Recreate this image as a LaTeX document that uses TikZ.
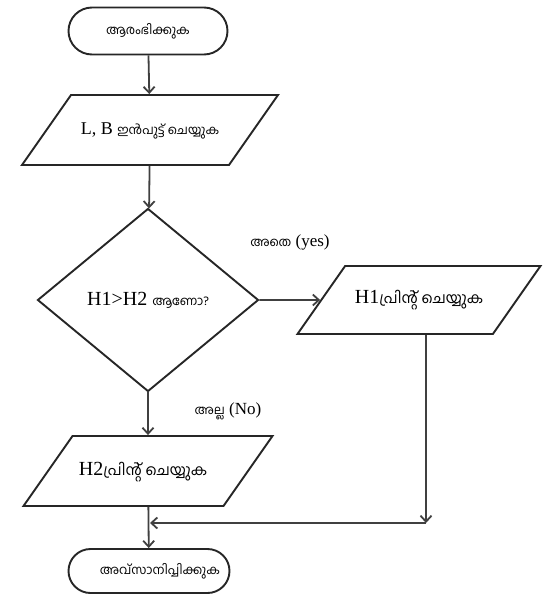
\documentclass[tikz,border=0pt]{standalone}
\usepackage{fontspec}
\setmainfont{Liberation Serif}
\newfontfamily\ml[Script=Malayalam]{Hind Kochi}
\usetikzlibrary{shapes.geometric,shapes.misc,arrows.meta}

\tikzset{
  outline/.style={draw=black!85, line width=1.9pt, fill=white},
  terminal/.style={outline, rounded rectangle, inner sep=0pt},
  % parallelogram whose height comes from the text box (body stretched to width)
  iobox/.style={outline, trapezium, trapezium left angle=55, trapezium right angle=125,
    trapezium stretches body, inner sep=0pt, text height=#1-31pt, text depth=31pt},
  iobox/.default=70pt,
  decision/.style={outline, diamond, inner sep=0pt},
  flow/.style={draw=black!75, line width=1.8pt,
    -{Straight Barb[length=6pt,width=11pt,line width=1.8pt]}},
  mltext/.style={font=\ml\fontsize{12.5}{14}\selectfont},
  latin/.style={font=\fontsize{20}{22}\selectfont},
  edgelabel/.style={font=\fontsize{17}{18}\selectfont, inner sep=0pt}
}
\newcommand{\mlsmall}[1]{{\ml\fontsize{12.5}{14}\selectfont #1}}
\newcommand{\mlmid}[1]{{\ml\fontsize{15}{16}\selectfont #1}}

\begin{document}
\begin{tikzpicture}[x=1pt, y=-1pt]
  \useasboundingbox (0,0) rectangle (545,595);

  % shapes
  \node[terminal, mltext, minimum width=159pt, minimum height=47pt] (start) at (148,31) {ആരംഭിക്കുക};
  \node[iobox, font=\fontsize{18}{20}\selectfont, minimum width=256pt] (input) at (150,130)
    {L, B \mlsmall{ഇൻപുട്ട് ചെയ്യുക}};
  \node[decision, latin, minimum width=221pt, minimum height=183pt] (dec) at (148,300)
    {H1>H2 \mlsmall{ആണോ?}};
  \node[iobox=68pt, latin, minimum width=243pt] (p1) at (419,300)
    {H1\mlmid{പ്രിന്റ് ചെയ്യുക}};
  \node[iobox, latin, minimum width=249pt] (p2) at (148,471)
    {H2\mlmid{പ്രിന്റ് ചെയ്യുക}\hspace*{10pt}};
  \node[terminal, mltext, minimum width=161pt, minimum height=44pt] (end) at (149,571)
    {\hspace*{22pt}അവ്സാനിപ്പിക്കുക};

  % branch labels
  \node[edgelabel] (yes) at (290,242) {\mlsmall{അതെ} (yes)};
  \node[edgelabel] (no) at (228,411) {\mlsmall{അല്ല} (No)};

  % merge points
  \coordinate (turn) at (426,523);
  \coordinate (join) at (150,523);

  % connectors
  \draw[flow] (start) -- (input);
  \draw[flow] (input) -- (dec);
  \draw[flow] (dec) -- (p1);
  \draw[flow] (dec) -- (p2);
  \draw[flow] (p2) -- (end);
  \draw[flow] (p1.south -| turn) -- (turn);
  \draw[flow] (turn) -- (join);
\end{tikzpicture}
\end{document}
